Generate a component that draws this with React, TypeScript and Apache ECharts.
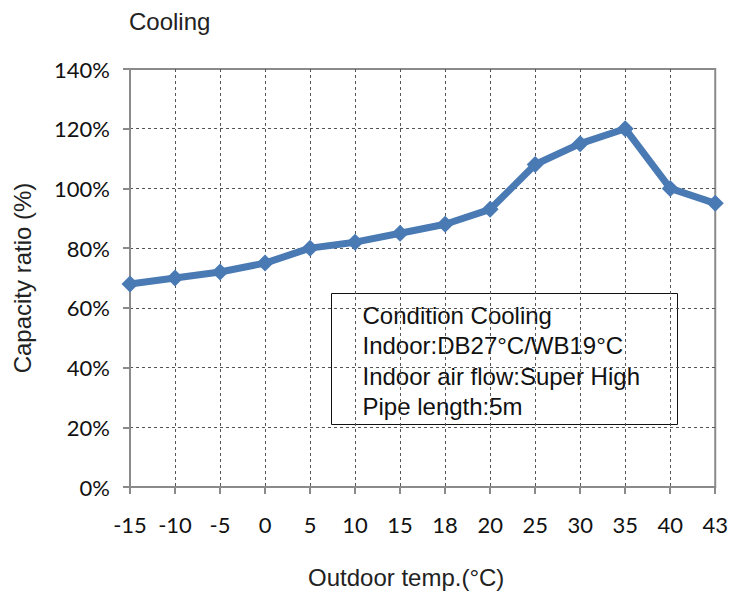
import React, { useEffect, useRef } from "react";
import * as echarts from "echarts";

const temps = ["-15", "-10", "-5", "0", "5", "10", "15", "18", "20", "25", "30", "35", "40", "43"];
const capacity = [68, 70, 72, 75, 80, 82, 85, 88, 93, 108, 115, 120, 100, 95];
const yMin = 0;
const yMax = 140;
const yStep = 20;
const chartTitle = "Cooling";
const xTitle = "Outdoor temp.(°C)";
const yTitle = "Capacity ratio (%)";
const conditionLines = [
  "Condition Cooling",
  "Indoor:DB27°C/WB19°C",
  "Indoor air flow:Super High",
  "Pipe length:5m",
];

const ARIAL = "Liberation Sans";
const TICKFONT = "Lato";
const AXIS_GRAY = "#8a8a8a";

export default function App() {
  const ref = useRef<HTMLDivElement>(null);
  useEffect(() => {
    document.body.style.margin = "0";
    if (!ref.current) return;
    const chart = echarts.init(ref.current, undefined, { renderer: "svg" });
    chart.setOption({
      animation: false,
      backgroundColor: "#ffffff",
      title: {
        text: chartTitle,
        left: 124,
        top: 4,
        textStyle: { fontFamily: ARIAL, fontSize: 24, fontWeight: "normal", color: "#222" },
      },
      grid: {
        left: 130,
        right: 12,
        top: 69,
        bottom: 108,
        show: true,
        borderColor: AXIS_GRAY,
        borderWidth: 2,
        backgroundColor: "transparent",
      },
      xAxis: {
        type: "category",
        data: temps,
        boundaryGap: false,
        axisLine: { show: true, lineStyle: { color: AXIS_GRAY, width: 2 } },
        axisTick: { show: true, interval: 0, length: 7, lineStyle: { color: AXIS_GRAY, width: 2 } },
        axisLabel: { interval: 0, fontFamily: TICKFONT, fontSize: 22, color: "#111", margin: 26 },
        splitLine: {
          show: true,
          interval: 0,
          showMinLine: false,
          showMaxLine: false,
          lineStyle: { color: "#555", width: 1, type: [3, 3] },
        },
      },
      yAxis: {
        type: "value",
        min: yMin,
        max: yMax,
        interval: yStep,
        name: yTitle,
        nameLocation: "middle",
        nameGap: 96,
        nameTextStyle: { fontFamily: ARIAL, fontSize: 24, color: "#222" },
        axisLine: { show: true, lineStyle: { color: AXIS_GRAY, width: 2 } },
        axisTick: { show: true, length: 7, lineStyle: { color: AXIS_GRAY, width: 2 } },
        axisLabel: { fontFamily: TICKFONT, fontSize: 22, color: "#111", margin: 20, formatter: "{value}%" },
        splitLine: {
          show: true,
          showMinLine: false,
          showMaxLine: false,
          lineStyle: { color: "#555", width: 1, type: [3, 3] },
        },
      },
      series: [
        {
          type: "line",
          data: capacity,
          symbol: "diamond",
          symbolSize: 17,
          lineStyle: { color: "#4a7ab4", width: 7 },
          itemStyle: { color: "#4a7ab4" },
          z: 3,
        },
      ],
      graphic: [
        {
          type: "text",
          left: 308,
          top: 565,
          style: { text: xTitle, fontFamily: ARIAL, fontSize: 24, fill: "#222" },
        },
        {
          type: "group",
          left: 331,
          top: 293,
          z: 10,
          children: [
            {
              type: "rect",
              shape: { x: 0, y: 0, width: 346, height: 131 },
              style: { fill: "#fff", stroke: "#111", lineWidth: 1 },
            },
            ...conditionLines.map((t, i) => ({
              type: "text",
              x: 31,
              y: 22 + i * 30.3,
              style: {
                text: t,
                fontFamily: ARIAL,
                fontSize: 24,
                fill: "#111",
                verticalAlign: "middle",
              },
            })),
          ],
        },
      ],
    });
    return () => chart.dispose();
  }, []);
  return <div ref={ref} style={{ width: 731, height: 595 }} />;
}
